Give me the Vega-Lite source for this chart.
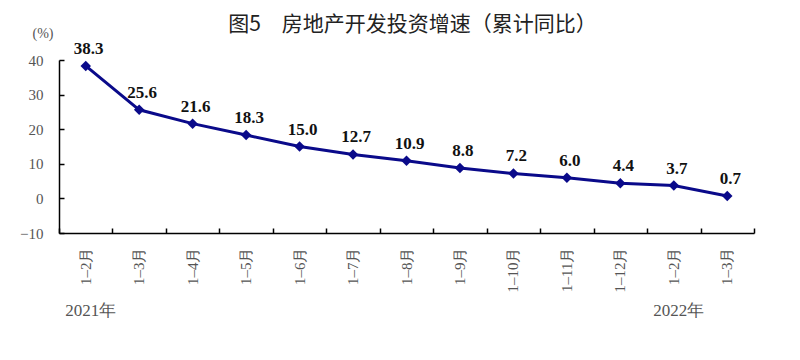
{
  "$schema": "https://vega.github.io/schema/vega-lite/v6.json",
  "width": 695,
  "height": 173,
  "autosize": {"type": "none"},
  "padding": {"left": 59, "top": 60, "right": 46, "bottom": 127},
  "background": "white",
  "title": {
    "text": "图5　房地产开发投资增速（累计同比）",
    "font": "Noto Sans CJK SC",
    "fontSize": 21,
    "fontWeight": "normal",
    "color": "#222222",
    "anchor": "middle",
    "frame": "group",
    "dx": 6,
    "offset": -9
  },
  "config": {"view": {"stroke": null}},
  "resolve": {"axis": {"x": "independent", "y": "independent"}},
  "datasets": {
    "series": [
      {"period": "2021年1–2月", "growth": 38.3},
      {"period": "2021年1–3月", "growth": 25.6},
      {"period": "2021年1–4月", "growth": 21.6},
      {"period": "2021年1–5月", "growth": 18.3},
      {"period": "2021年1–6月", "growth": 15.0},
      {"period": "2021年1–7月", "growth": 12.7},
      {"period": "2021年1–8月", "growth": 10.9},
      {"period": "2021年1–9月", "growth": 8.8},
      {"period": "2021年1–10月", "growth": 7.2},
      {"period": "2021年1–11月", "growth": 6.0},
      {"period": "2021年1–12月", "growth": 4.4},
      {"period": "2022年1–2月", "growth": 3.7},
      {"period": "2022年1–3月", "growth": 0.7}
    ],
    "years": [
      {"period": "2021年1–2月", "year": "2021年", "base": -10},
      {"period": "2022年1–2月", "year": "2022年", "base": -10}
    ]
  },
  "layer": [
    {
      "data": {"name": "series"},
      "mark": {"type": "line", "color": "#0a0a8a", "strokeWidth": 3},
      "encoding": {
        "x": {
          "field": "period",
          "type": "nominal",
          "sort": null,
          "scale": {"paddingInner": 0, "paddingOuter": 0},
          "axis": {
            "orient": "bottom",
            "title": null,
            "labelExpr": "slice(datum.label, 5)",
            "labelAngle": -90,
            "labelFont": "Liberation Serif",
            "labelFontSize": 15,
            "labelColor": "#555555",
            "labelPadding": 14,
            "labelOverlap": false,
            "ticks": false,
            "domainColor": "#000000",
            "domainWidth": 1.5
          }
        },
        "y": {
          "field": "growth",
          "type": "quantitative",
          "scale": {"domain": [-10, 40], "nice": false, "zero": false},
          "axis": {
            "orient": "left",
            "values": [-10, 0, 10, 20, 30, 40],
            "grid": false,
            "title": "(%)",
            "titleAngle": 0,
            "titleFont": "Liberation Serif",
            "titleFontSize": 14,
            "titleFontWeight": "normal",
            "titleColor": "#555555",
            "titleX": -6,
            "titleY": -27,
            "titleAlign": "right",
            "titleBaseline": "middle",
            "labelFont": "Liberation Serif",
            "labelFontSize": 15,
            "labelColor": "#555555",
            "labelPadding": 16,
            "labelOverlap": false,
            "ticks": false,
            "domainColor": "#000000",
            "domainWidth": 1.5
          }
        }
      }
    },
    {
      "data": {"name": "series"},
      "mark": {"type": "point", "shape": "diamond", "filled": true, "color": "#0a0a8a", "size": 110, "opacity": 1},
      "encoding": {
        "x": {
          "field": "period",
          "type": "nominal",
          "sort": null,
          "axis": {
            "orient": "top",
            "offset": -173,
            "title": null,
            "labels": false,
            "domain": false,
            "tickBand": "extent",
            "tickSize": 5,
            "tickColor": "#000000",
            "tickWidth": 1.5
          }
        },
        "y": {
          "field": "growth",
          "type": "quantitative",
          "axis": {
            "orient": "right",
            "offset": -695,
            "values": [-10, 0, 10, 20, 30, 40],
            "grid": false,
            "title": null,
            "labels": false,
            "domain": false,
            "tickSize": 5,
            "tickColor": "#000000",
            "tickWidth": 1.5
          }
        }
      }
    },
    {
      "data": {"name": "series"},
      "mark": {"type": "text", "font": "Liberation Serif", "fontSize": 17, "fontWeight": "bold", "color": "#111111", "dy": -17, "dx": 3, "baseline": "middle"},
      "encoding": {
        "x": {"field": "period", "type": "nominal", "sort": null, "axis": null},
        "y": {"field": "growth", "type": "quantitative", "axis": null},
        "text": {"field": "growth", "type": "quantitative", "format": ".1f"}
      }
    },
    {
      "data": {"name": "years"},
      "mark": {"type": "text", "font": "Liberation Serif", "fontSize": 17, "color": "#555555", "dy": 78, "dx": 5, "baseline": "middle"},
      "encoding": {
        "x": {"field": "period", "type": "nominal", "sort": null, "axis": null},
        "y": {"field": "base", "type": "quantitative", "axis": null},
        "text": {"field": "year", "type": "nominal"}
      }
    }
  ]
}
